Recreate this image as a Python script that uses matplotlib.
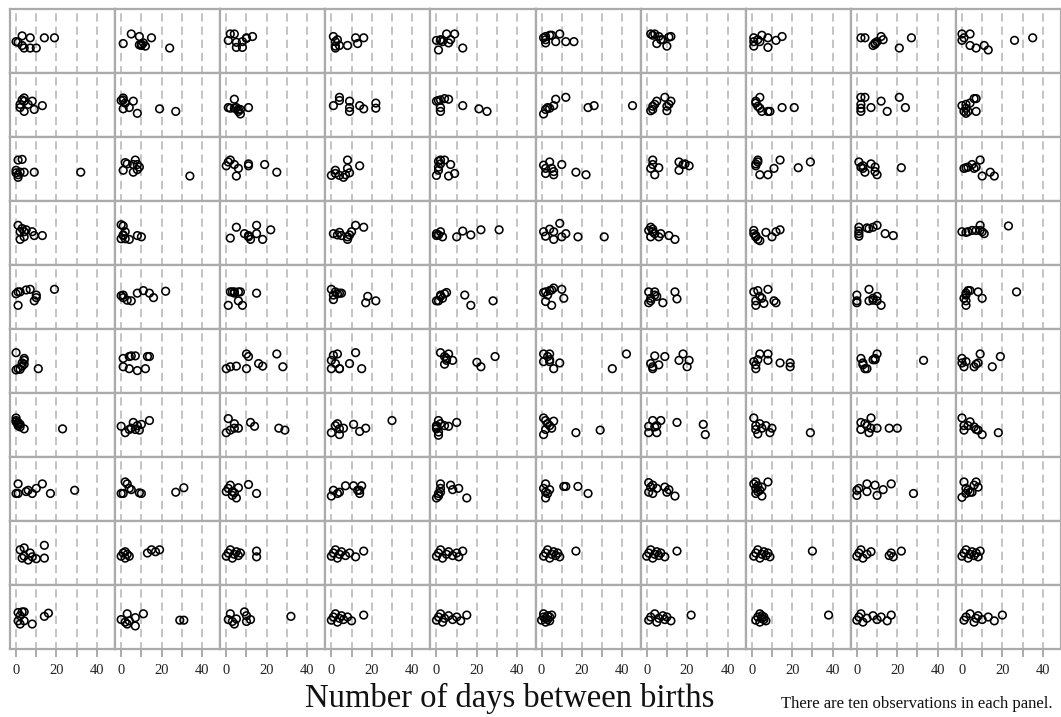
import matplotlib
matplotlib.use("Agg")
import matplotlib.pyplot as plt

# days between births, one list of 10 per panel, rows top to bottom
days_r1 = [[0, 1, 3, 3, 4, 7, 10, 7, 14, 19], [1, 5, 9, 9, 10, 10, 11, 12, 15, 24],
           [1, 2, 4, 5, 5, 8, 8, 10, 10, 13], [1, 2, 3, 2, 2, 4, 8, 12, 13, 16],
           [0, 2, 3, 5, 6, 7, 9, 1, 13, 2], [1, 2, 2, 4, 5, 7, 9, 12, 16, 2],
           [2, 4, 6, 7, 8, 12, 5, 10, 11, 3], [1, 1, 1, 3, 5, 8, 8, 12, 15, 4],
           [2, 4, 8, 9, 10, 12, 13, 21, 27, 9], [0, 4, 0, 4, 7, 11, 13, 26, 35, 1]]
days_r2 = [[2, 3, 4, 4, 4, 6, 8, 9, 13, 2], [0, 1, 1, 1, 4, 6, 8, 19, 27, 2],
           [1, 4, 2, 4, 6, 7, 7, 11, 5, 6], [1, 4, 4, 9, 9, 9, 14, 16, 22, 22],
           [0, 1, 2, 4, 6, 2, 2, 13, 21, 25], [1, 2, 3, 4, 6, 7, 12, 23, 26, 45],
           [2, 3, 4, 5, 9, 10, 10, 12, 3, 11], [2, 3, 4, 4, 5, 9, 8, 15, 21, 2],
           [2, 4, 2, 2, 2, 7, 12, 15, 21, 24], [0, 2, 2, 3, 4, 6, 7, 7, 2, 1]]
days_r3 = [[1, 3, 0, 0, 1, 1, 2, 4, 9, 32], [1, 2, 3, 6, 7, 8, 9, 8, 6, 34],
           [0, 2, 4, 6, 5, 11, 11, 19, 25, 1], [0, 2, 4, 6, 8, 8, 9, 14, 2, 7],
           [1, 2, 4, 7, 1, 0, 6, 9, 2, 1], [1, 2, 2, 4, 5, 6, 6, 10, 17, 22],
           [3, 2, 6, 4, 16, 18, 21, 16, 3, 19], [2, 2, 3, 3, 4, 8, 11, 14, 23, 29],
           [1, 2, 3, 4, 7, 9, 9, 10, 22, 3], [1, 2, 5, 6, 9, 10, 14, 16, 3, 7]]
days_r4 = [[1, 2, 3, 4, 5, 8, 9, 13, 2, 4], [0, 1, 0, 1, 2, 4, 8, 10, 1, 2],
           [2, 5, 9, 11, 12, 15, 15, 18, 22, 11], [1, 3, 4, 5, 8, 9, 10, 12, 16, 8],
           [0, 0, 2, 3, 10, 13, 17, 22, 31, 1], [1, 2, 4, 6, 6, 9, 10, 12, 18, 31],
           [1, 2, 3, 2, 4, 6, 7, 11, 14, 3], [1, 1, 2, 3, 4, 7, 10, 12, 14, 2],
           [1, 1, 1, 5, 8, 10, 14, 18, 1, 6], [0, 3, 5, 7, 9, 9, 11, 23, 2, 10]]
days_r5 = [[0, 1, 2, 5, 7, 9, 10, 10, 1, 19], [0, 1, 3, 5, 8, 11, 14, 16, 22, 1],
           [2, 3, 4, 6, 7, 1, 6, 8, 15, 4], [0, 1, 1, 3, 4, 5, 18, 17, 22, 2],
           [0, 1, 2, 2, 4, 5, 14, 17, 28, 3], [1, 2, 4, 5, 6, 10, 11, 2, 5, 3],
           [1, 4, 4, 5, 2, 1, 8, 14, 15, 2], [1, 3, 4, 5, 2, 2, 6, 8, 11, 12],
           [0, 0, 0, 6, 6, 8, 10, 10, 12, 8], [1, 2, 3, 4, 2, 2, 8, 10, 27, 2]]
days_r6 = [[0, 4, 4, 4, 3, 1, 0, 2, 11, 3], [1, 4, 5, 7, 1, 4, 8, 12, 13, 14],
           [0, 2, 5, 10, 10, 11, 16, 18, 25, 28], [0, 1, 3, 0, 4, 2, 9, 12, 15, 4],
           [2, 6, 5, 5, 8, 4, 20, 22, 29, 4], [1, 4, 1, 4, 6, 9, 35, 42, 3, 4],
           [2, 3, 4, 6, 9, 3, 16, 18, 20, 21], [1, 2, 3, 4, 8, 8, 14, 19, 19, 2],
           [2, 3, 4, 5, 8, 9, 10, 33, 3, 9], [0, 0, 1, 6, 7, 8, 9, 15, 19, 2]]
days_r7 = [[0, 0, 0, 1, 1, 2, 4, 23, 1, 2], [0, 2, 4, 6, 7, 8, 9, 10, 14, 5],
           [1, 0, 2, 4, 4, 6, 12, 14, 26, 29], [0, 2, 3, 4, 4, 6, 11, 14, 17, 30],
           [0, 1, 0, 1, 1, 4, 6, 10, 2, 0], [1, 2, 3, 4, 5, 6, 1, 2, 17, 29],
           [1, 1, 3, 4, 5, 5, 7, 15, 28, 29], [1, 2, 2, 3, 5, 7, 10, 9, 29, 4],
           [2, 2, 4, 5, 7, 7, 10, 16, 20, 6], [0, 1, 1, 4, 6, 7, 8, 10, 18, 3]]
days_r8 = [[0, 1, 1, 5, 6, 8, 10, 13, 17, 29], [0, 1, 2, 3, 4, 5, 9, 10, 27, 31],
           [0, 1, 2, 3, 4, 5, 6, 11, 15, 3], [0, 1, 3, 4, 7, 11, 13, 14, 15, 14],
           [0, 1, 2, 2, 2, 7, 8, 11, 15, 1], [1, 2, 4, 3, 2, 11, 12, 18, 23, 2],
           [1, 3, 1, 3, 5, 9, 10, 11, 14, 2], [1, 2, 2, 3, 5, 8, 5, 3, 2, 4],
           [0, 0, 1, 5, 5, 9, 10, 13, 17, 28], [0, 1, 2, 4, 6, 7, 8, 5, 3, 2]]
days_r9 = [[2, 3, 4, 6, 8, 10, 7, 14, 14, 4], [0, 1, 2, 3, 4, 2, 13, 15, 17, 19],
           [0, 1, 2, 3, 4, 5, 6, 7, 15, 15], [0, 1, 2, 3, 4, 5, 7, 9, 12, 16],
           [0, 1, 2, 3, 5, 6, 8, 10, 11, 13], [1, 2, 3, 4, 5, 6, 7, 8, 9, 17],
           [0, 1, 2, 3, 4, 5, 6, 7, 9, 15], [1, 2, 3, 4, 5, 6, 7, 8, 9, 30],
           [0, 1, 2, 3, 5, 7, 16, 17, 18, 22], [0, 1, 2, 3, 4, 5, 6, 7, 8, 9]]
days_r10 = [[1, 1, 2, 3, 2, 4, 4, 8, 14, 16], [0, 2, 3, 3, 4, 7, 7, 11, 29, 31],
            [2, 1, 3, 4, 5, 9, 10, 10, 12, 32], [0, 1, 2, 3, 4, 5, 6, 8, 10, 16],
            [0, 1, 2, 3, 4, 6, 8, 10, 12, 15], [0, 1, 1, 2, 2, 3, 3, 4, 4, 5],
            [1, 2, 4, 5, 6, 8, 9, 10, 12, 22], [2, 3, 4, 4, 5, 5, 6, 6, 7, 38],
            [0, 1, 2, 3, 5, 8, 10, 12, 15, 17], [1, 2, 4, 6, 7, 8, 10, 13, 16, 20]]

# vertical jitter of each point inside its panel (0 = bottom, 1 = top)
jit_r1 = [[.49, .48, .58, .43, .39, .39, .39, .55, .55, .55], [.46, .61, .57, .44, .43, .45, .47, .42, .55, .39],
          [.51, .61, .61, .48, .40, .40, .49, .54, .55, .57], [.57, .49, .52, .42, .39, .43, .43, .55, .46, .55],
          [.51, .52, .49, .61, .47, .52, .61, .36, .39, .51], [.55, .47, .57, .59, .59, .49, .61, .49, .49, .52],
          [.61, .61, .57, .52, .52, .57, .46, .42, .56, .59], [.55, .49, .42, .52, .59, .40, .55, .51, .57, .49],
          [.55, .55, .43, .45, .49, .57, .52, .39, .55, .47], [.61, .61, .51, .43, .39, .43, .36, .51, .55, .55]]
jit_r2 = [[.46, .58, .61, .56, .40, .51, .56, .43, .49, .51], [.57, .61, .58, .44, .46, .56, .37, .44, .40, .53],
          [.46, .59, .45, .45, .43, .36, .43, .46, .46, .40], [.49, .62, .57, .56, .46, .40, .49, .44, .53, .45],
          [.56, .57, .58, .60, .59, .46, .40, .49, .44, .40], [.36, .43, .46, .45, .49, .59, .62, .46, .49, .49],
          [.41, .48, .51, .56, .62, .48, .41, .56, .43, .51], [.56, .48, .62, .45, .40, .40, .40, .46, .46, .53],
          [.62, .62, .51, .45, .40, .46, .56, .40, .62, .46], [.49, .45, .37, .40, .53, .60, .60, .40, .51, .40]]
jit_r3 = [[.64, .65, .48, .44, .41, .37, .45, .45, .45, .45], [.48, .60, .58, .45, .64, .57, .53, .49, .57, .39],
          [.55, .64, .57, .51, .39, .58, .55, .57, .45, .61], [.40, .48, .40, .37, .64, .51, .44, .55, .43, .41],
          [.62, .58, .64, .57, .48, .40, .39, .43, .64, .53], [.56, .51, .43, .61, .51, .46, .41, .57, .45, .41],
          [.64, .51, .52, .41, .61, .57, .55, .48, .57, .58], [.55, .58, .61, .64, .41, .41, .51, .64, .52, .61],
          [.61, .53, .51, .45, .58, .53, .46, .41, .52, .55], [.51, .52, .57, .51, .64, .39, .45, .39, .53, .53]]
jit_r4 = [[.62, .52, .57, .52, .55, .52, .46, .46, .40, .44], [.63, .61, .41, .46, .41, .40, .46, .44, .47, .52],
          [.42, .59, .49, .46, .40, .62, .49, .40, .55, .44], [.49, .47, .51, .46, .40, .47, .52, .62, .59, .44],
          [.46, .49, .52, .44, .44, .53, .47, .55, .55, .47], [.52, .45, .56, .52, .40, .65, .44, .49, .44, .44],
          [.54, .59, .52, .44, .49, .44, .49, .46, .40, .56], [.54, .49, .44, .40, .38, .51, .44, .52, .55, .46],
          [.59, .53, .45, .58, .59, .62, .49, .46, .49, .57], [.52, .52, .54, .54, .62, .54, .49, .61, .51, .52]]
jit_r5 = [[.55, .58, .58, .61, .62, .44, .49, .53, .37, .62], [.52, .49, .45, .44, .56, .60, .56, .49, .59, .53],
          [.58, .58, .58, .58, .58, .37, .44, .37, .56, .56], [.62, .53, .46, .55, .56, .56, .51, .41, .44, .58],
          [.44, .44, .51, .53, .55, .57, .53, .37, .44, .48], [.57, .58, .60, .61, .64, .62, .48, .43, .37, .53],
          [.58, .58, .53, .51, .44, .41, .41, .58, .47, .48], [.58, .60, .51, .48, .44, .37, .40, .62, .44, .41],
          [.53, .44, .41, .62, .44, .48, .51, .44, .37, .45], [.48, .56, .60, .60, .44, .37, .58, .48, .58, .53]]
jit_r6 = [[.63, .54, .51, .45, .42, .38, .36, .37, .38, .47], [.54, .57, .58, .58, .41, .38, .35, .38, .57, .57],
          [.38, .41, .42, .38, .61, .57, .46, .42, .61, .41], [.51, .59, .61, .38, .38, .46, .46, .63, .38, .38],
          [.63, .61, .54, .51, .51, .45, .48, .41, .57, .57], [.61, .61, .49, .49, .38, .47, .38, .61, .57, .52],
          [.46, .41, .58, .44, .57, .38, .51, .61, .41, .51], [.49, .38, .52, .61, .61, .51, .47, .47, .41, .44],
          [.54, .47, .38, .38, .52, .54, .61, .51, .44, .52], [.54, .47, .41, .41, .45, .47, .61, .41, .57, .49]]
jit_r7 = [[.61, .57, .55, .52, .49, .47, .44, .44, .54, .51], [.48, .38, .43, .54, .43, .49, .42, .51, .57, .45],
          [.60, .38, .42, .52, .45, .45, .54, .48, .45, .42], [.38, .49, .52, .44, .35, .45, .51, .40, .45, .57],
          [.49, .57, .44, .39, .34, .49, .48, .54, .52, .47], [.61, .57, .52, .49, .45, .56, .35, .43, .38, .42],
          [.48, .38, .57, .47, .38, .49, .57, .54, .51, .35], [.61, .49, .43, .36, .45, .49, .45, .38, .38, .52],
          [.54, .43, .52, .49, .45, .61, .45, .45, .45, .38], [.61, .49, .42, .55, .47, .43, .42, .35, .38, .49]]
jit_r8 = [[.43, .43, .58, .46, .48, .43, .51, .58, .43, .48], [.43, .43, .61, .58, .51, .49, .44, .43, .45, .52],
          [.46, .51, .56, .40, .44, .36, .52, .57, .43, .46], [.39, .48, .43, .45, .55, .55, .48, .43, .55, .48],
          [.36, .39, .45, .51, .58, .56, .49, .51, .36, .43], [.51, .58, .49, .43, .36, .54, .54, .54, .43, .45],
          [.60, .56, .45, .43, .51, .53, .45, .49, .39, .53], [.58, .51, .43, .55, .39, .61, .53, .46, .61, .48],
          [.48, .40, .51, .58, .46, .56, .40, .49, .58, .43], [.37, .61, .51, .45, .56, .61, .53, .45, .48, .43]]
jit_r9 = [[.55, .42, .45, .39, .44, .41, .50, .62, .42, .58], [.45, .50, .42, .48, .45, .52, .50, .55, .52, .55],
          [.45, .50, .55, .42, .48, .52, .46, .50, .44, .53], [.45, .50, .55, .42, .48, .52, .46, .50, .44, .53],
          [.45, .50, .55, .42, .48, .52, .46, .50, .44, .53], [.45, .50, .55, .42, .48, .52, .46, .50, .44, .53],
          [.45, .50, .55, .42, .48, .52, .46, .50, .44, .53], [.45, .50, .55, .42, .48, .52, .46, .50, .44, .53],
          [.45, .50, .55, .42, .48, .52, .46, .50, .44, .53], [.45, .50, .55, .42, .48, .52, .46, .50, .44, .53]]
jit_r10 = [[.57, .44, .52, .58, .39, .44, .58, .39, .51, .56], [.46, .42, .55, .39, .44, .49, .36, .55, .45, .45],
           [.55, .46, .43, .39, .47, .58, .52, .43, .46, .51], [.45, .50, .55, .42, .48, .52, .46, .50, .44, .53],
           [.45, .50, .55, .42, .48, .52, .46, .50, .44, .53], [.45, .50, .55, .42, .48, .52, .46, .50, .44, .53],
           [.45, .50, .55, .42, .48, .52, .46, .50, .44, .53], [.45, .50, .55, .42, .48, .52, .46, .50, .44, .53],
           [.45, .50, .55, .42, .48, .52, .46, .50, .44, .53], [.45, .50, .55, .42, .48, .52, .46, .50, .44, .53]]

days = [days_r1, days_r2, days_r3, days_r4, days_r5,
        days_r6, days_r7, days_r8, days_r9, days_r10]
jit = [jit_r1, jit_r2, jit_r3, jit_r4, jit_r5,
       jit_r6, jit_r7, jit_r8, jit_r9, jit_r10]

grid_x = [0, 10, 20, 30, 40]
tick_labels = ['0', '', '20', '', '40']

plt.rcParams['font.family'] = ['Liberation Serif', 'DejaVu Serif']
plt.rcParams['lines.scale_dashes'] = False

fig = plt.figure(figsize=(10.61, 7.17), dpi=100)
gs = fig.add_gridspec(10, 10, left=10/1061, right=1.0, top=1 - 9/717,
                      bottom=1 - 649/717, wspace=0, hspace=0)

border = '#ababab'
for r in range(10):
    for c in range(10):
        ax = fig.add_subplot(gs[r, c])
        ax.set_xlim(-3, 49)
        ax.set_ylim(0, 1)
        ax.vlines(grid_x, 0, 1, colors='#c4c4c4', lw=1.4,
                  linestyles=[(1, (6, 3.5))], zorder=1)
        ax.scatter(days[r][c], jit[r][c], s=30, facecolors='none',
                   edgecolors='black', linewidths=1.15, zorder=3, clip_on=False)
        for sp in ax.spines.values():
            sp.set_color(border)
            sp.set_linewidth(1.6)
        ax.set_yticks([])
        if r == 9:
            ax.set_xticks(grid_x)
            ax.set_xticklabels(tick_labels)
            ax.tick_params(axis='x', length=6, width=1.4, color=border,
                           labelsize=10.5, pad=5, labelcolor='#222222')
        else:
            ax.set_xticks([])

fig.text(510/1061, 1 - 707/717, 'Number of days between births',
         ha='center', va='baseline', fontsize=23.5, color='#111111')
fig.text(1053/1061, 1 - 708/717, 'There are ten observations in each panel.',
         ha='right', va='baseline', fontsize=12, color='#111111')

fig.savefig('out.png', dpi=100)
